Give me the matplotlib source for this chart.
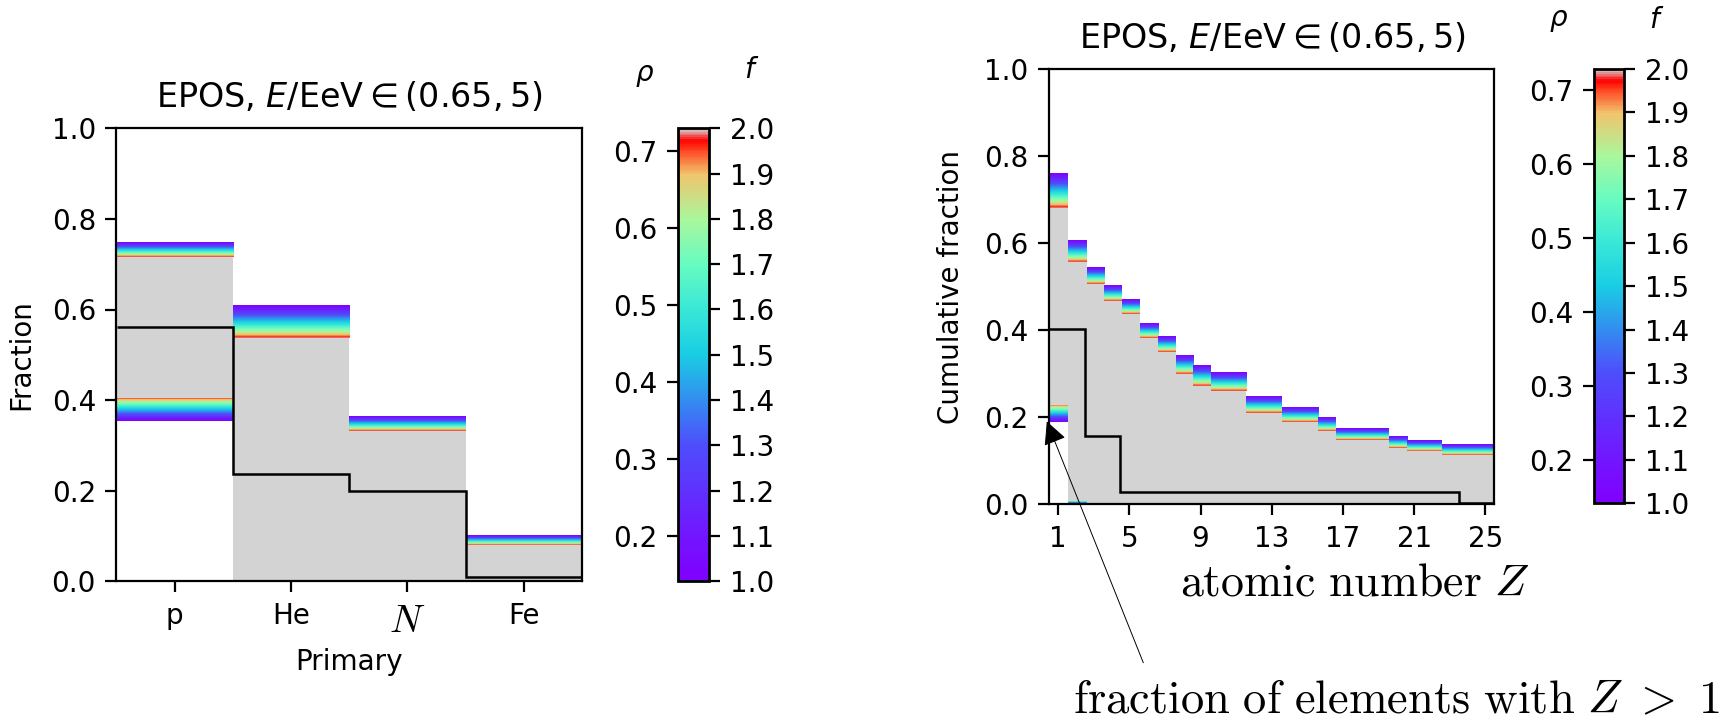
import numpy as np
import matplotlib
matplotlib.use('Agg')
import matplotlib.pyplot as plt
from matplotlib.colors import LinearSegmentedColormap, Normalize
from matplotlib.cm import ScalarMappable

# left panel: fraction per primary (band edges at f=1 and f=2)
primaries = ['p', 'He', '$N$', 'Fe']
prim_edges = [-0.5, 0.5, 1.5, 2.5, 3.5]
prim_hi_f1 = [0.747, 0.608, 0.363, 0.102]
prim_hi_f2 = [0.716, 0.537, 0.331, 0.081]
prim_lo_f1 = [0.354, 0.0, 0.0, 0.0]
prim_lo_f2 = [0.405, 0.0, 0.0, 0.0]
prim_true = [0.562, 0.237, 0.200, 0.010]

# right panel: cumulative fraction vs atomic number
z_ticks = [1, 5, 9, 13, 17, 21, 25]
z_edges = [0.5, 1.56, 2.60, 3.59, 4.60, 5.60, 6.62, 7.60, 8.59, 9.57,
           11.56, 13.56, 15.62, 16.62, 19.56, 20.60, 22.56, 25.5]
cum_hi_f1 = [0.759, 0.606, 0.544, 0.503, 0.471, 0.416, 0.384, 0.341, 0.319,
             0.301, 0.247, 0.221, 0.201, 0.175, 0.155, 0.148, 0.136]
cum_hi_f2 = [0.680, 0.556, 0.505, 0.467, 0.437, 0.382, 0.349, 0.299, 0.272,
             0.259, 0.210, 0.188, 0.169, 0.148, 0.129, 0.123, 0.112]
cum_lo_f1 = [0.188, 0.0, 0, 0, 0, 0, 0, 0, 0, 0, 0, 0, 0, 0, 0, 0, 0]
cum_lo_f2 = [0.228, 0.008, 0, 0, 0, 0, 0, 0, 0, 0, 0, 0, 0, 0, 0, 0, 0]
true_z_edges = [0.5, 2.5, 4.5, 23.5, 25.5]
cum_true = [0.402, 0.157, 0.028, 0.002]

# colour bar scales
f_ticks = [1.0, 1.1, 1.2, 1.3, 1.4, 1.5, 1.6, 1.7, 1.8, 1.9, 2.0]
rho_ticks = [0.2, 0.3, 0.4, 0.5, 0.6, 0.7]
rho_range = [0.1415, 0.729]

plt.rcParams['font.size'] = 20
plt.rcParams['axes.linewidth'] = 1.6
for a in ('xtick', 'ytick'):
    plt.rcParams[a + '.major.width'] = 1.6
    plt.rcParams[a + '.major.size'] = 7.8
    plt.rcParams[a + '.major.pad'] = 7

# rainbow that fades into the light grey of the f=2 fill
rb = plt.get_cmap('rainbow')
stops = [(0.0, 0.0), (0.1, 0.03), (0.3, 0.1), (0.5, 0.3), (0.6, 0.36),
         (0.7, 0.45), (0.8, 0.58), (0.9, 0.72), (0.95, 0.9), (0.975, 1.0)]
cmap = LinearSegmentedColormap.from_list(
    'rainbow_grey', [(p, rb(x)) for p, x in stops] + [(1.0, 'lightgrey')])
norm = Normalize(1, 2)
grad = np.linspace(2, 1, 256).reshape(-1, 1)


def draw_bands(ax, edges, hi1, hi2, lo1, lo2, t_edges, t_vals):
    edges = np.asarray(edges)
    ax.bar(edges[:-1], np.subtract(hi2, lo2), np.diff(edges), bottom=lo2,
           align='edge', color='lightgrey', lw=0)
    for x0, x1, a1, a2, b1, b2 in zip(edges[:-1], edges[1:], hi1, hi2, lo1, lo2):
        ax.imshow(grad, cmap=cmap, norm=norm, extent=(x0, x1, a2, a1),
                  origin='lower', aspect='auto', interpolation='bilinear')
        if b2 > b1:
            ax.imshow(grad, cmap=cmap, norm=norm, extent=(x0, x1, b2, b1),
                      origin='lower', aspect='auto', interpolation='bilinear')
    ax.stairs(t_vals, t_edges, baseline=None, color='k', lw=1.8)


def add_colorbar(fig, rect, rho_xy, f_xy):
    cax = fig.add_axes(rect)
    cb = fig.colorbar(ScalarMappable(norm=norm, cmap=cmap), cax=cax, ticks=f_ticks)
    cb.outline.set_linewidth(2.0)
    rax = fig.add_axes(rect, frameon=False)
    rax.set_xticks([])
    rax.set_ylim(rho_range)
    rax.set_yticks(rho_ticks)
    rax.yaxis.tick_left()
    fig.text(*rho_xy, r'$\rho$', ha='center', va='center')
    fig.text(*f_xy, r'$f$', ha='center', va='center')


W, H = 1730, 720
fig = plt.figure(figsize=(W / 100, H / 100), dpi=100)


def px(x0, y0, x1, y1):
    return [x0 / W, 1 - y1 / H, (x1 - x0) / W, (y1 - y0) / H]


title = r'EPOS, $E$/EeV$\in(0.65, 5)$'

# left panel
ax1 = fig.add_axes(px(116.5, 128.3, 582, 581.3))
draw_bands(ax1, prim_edges, prim_hi_f1, prim_hi_f2, prim_lo_f1, prim_lo_f2,
           prim_edges, prim_true)
ax1.set_xlim(-0.5, 3.5)
ax1.set_ylim(0, 1)
ax1.set_xticks(range(len(primaries)))
ax1.set_xticklabels(primaries)
lab = ax1.get_xticklabels()[2]
lab.set_math_fontfamily('cm')
lab.set_fontsize(28)
ax1.set_xlabel('Primary', labelpad=6)
ax1.set_ylabel('Fraction', labelpad=12)
ax1.set_title(title, fontsize=24, pad=15)
add_colorbar(fig, px(678.3, 128.3, 709, 581.3), (645 / W, 1 - 75 / H), (752 / W, 1 - 70 / H))

# right panel
ax2 = fig.add_axes(px(1049.3, 69.3, 1494.3, 504))
draw_bands(ax2, z_edges, cum_hi_f1, cum_hi_f2, cum_lo_f1, cum_lo_f2,
           true_z_edges, cum_true)
ax2.set_xlim(0.5, 25.5)
ax2.set_ylim(0, 1)
ax2.set_xticks(z_ticks)
ax2.set_ylabel('Cumulative fraction', labelpad=14)
ax2.set_title(title, fontsize=24, pad=15)
add_colorbar(fig, px(1594.3, 69, 1624.3, 503.3), (1559 / W, 1 - 20 / H), (1657 / W, 1 - 20 / H))

fig.text(1180 / W, 1 - 596 / H, r'$\mathrm{atomic\ number}\ Z$',
         fontsize=33, math_fontfamily='cm', ha='left', va='baseline')
fig.text(1073 / W, 1 - 713 / H, r'$\mathrm{fraction\ of\ elements\ with}\ Z\ >\ 1$',
         fontsize=33.5, math_fontfamily='cm', ha='left', va='baseline')
ax2.annotate('', xy=(0.36, 0.19), xycoords='data',
             xytext=(1143.3 / W, 1 - 662.7 / H), textcoords='figure fraction',
             annotation_clip=False,
             arrowprops=dict(arrowstyle='-|>,head_length=0.4,head_width=0.2',
                             mutation_scale=36, lw=0.7, color='k',
                             shrinkA=0, shrinkB=0))

fig.savefig('out.png', dpi=100)
